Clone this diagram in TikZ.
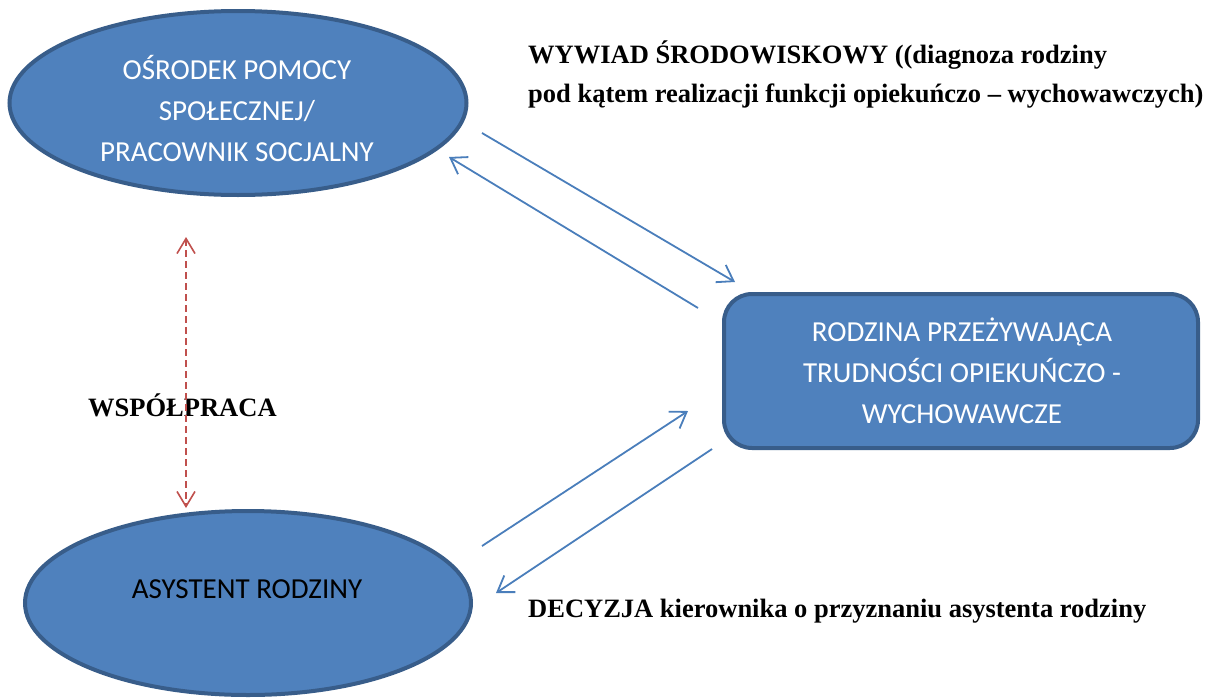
\documentclass[tikz,border=0pt]{standalone}
\usepackage{fontspec}
\newfontfamily\calfont{Carlito}
\newfontfamily\timesfont{Liberation Serif}
\usetikzlibrary{shapes.geometric,arrows.meta}
\definecolor{boxfill}{HTML}{4F81BD}
\definecolor{boxline}{HTML}{385D8A}
\definecolor{arrblue}{HTML}{4A7EBB}
\definecolor{arrred}{HTML}{C0504D}
\begin{document}
\begin{tikzpicture}[x=1pt,y=-1pt,
  ell/.style={ellipse, draw=boxline, fill=boxfill, line width=4pt, inner sep=0pt},
  rbox/.style={rectangle, rounded corners=28pt, draw=boxline, fill=boxfill, line width=4pt, inner sep=0pt, minimum width=474pt, minimum height=154pt},
  wtext/.style={font=\calfont\fontsize{29}{41}\selectfont, text=white, align=center, inner sep=0pt},
  lbl/.style={font=\timesfont\bfseries\fontsize{26.5}{39}\selectfont, align=left, inner sep=0pt},
  flow/.style={draw=arrblue, line width=1.8pt, -{Straight Barb[length=15pt,width=20pt]}},
  coop/.style={draw=arrred, line width=1.6pt, dash pattern=on 7pt off 4pt, {Straight Barb[length=15pt,width=18pt]}-{Straight Barb[length=15pt,width=18pt]}}
]
\useasboundingbox (0,0) rectangle (1215,699);
% shapes
\node[ell, minimum width=457pt, minimum height=184pt] (ops) at (238,103) {};
\node[ell, minimum width=446pt, minimum height=184pt] (asy) at (248,603) {};
\node[rbox] (rodz) at (961,371) {};
% texts in shapes
\node[wtext] (opsT) at (237,108) {OŚRODEK POMOCY\\SPOŁECZNEJ/\\PRACOWNIK SOCJALNY};
\node[wtext] (rodzT) at (962,371) {RODZINA PRZEŻYWAJĄCA\\TRUDNOŚCI OPIEKUŃCZO -\\WYCHOWAWCZE};
\node[wtext, text=black, anchor=base] (asyT) at (247,598) {ASYSTENT RODZINY};
% labels
\node[lbl, anchor=north west] (wywiad) at (528,41) {WYWIAD ŚRODOWISKOWY ((diagnoza rodziny\\pod kątem realizacji funkcji opiekuńczo – wychowawczych)};
\node[lbl, anchor=base west] (wsp) at (88,416) {WSPÓŁPRACA};
\node[lbl, anchor=base west] (decyzja) at (528,617) {DECYZJA kierownika o przyznaniu asystenta rodziny};
% arrow end points
\coordinate (a1s) at (482,133); \coordinate (a1e) at (735,282);
\coordinate (a2s) at (698,308); \coordinate (a2e) at (449,157);
\coordinate (a3s) at (482,546); \coordinate (a3e) at (688,411);
\coordinate (a4s) at (712,449); \coordinate (a4e) at (496,593);
\coordinate (r1) at (186,237); \coordinate (r2) at (186,508);
\draw[flow] (a1s) -- (a1e);
\draw[flow] (a2s) -- (a2e);
\draw[flow] (a3s) -- (a3e);
\draw[flow] (a4s) -- (a4e);
\draw[coop] (r1) -- (r2);
\end{tikzpicture}
\end{document}
